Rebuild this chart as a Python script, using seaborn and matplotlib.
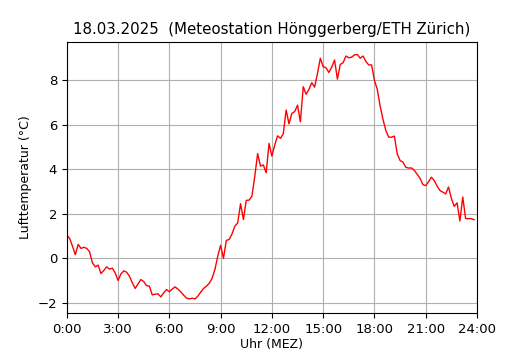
# Lufttemperatur Tagesverlauf, Meteostation Hönggerberg
import numpy as np
import pandas as pd
import matplotlib
matplotlib.use("Agg")
import matplotlib.pyplot as plt
import seaborn as sns

# 10-Minuten-Werte ab 0:00
temps = [
    1.05, 0.9, 0.55, 0.17, 0.63, 0.45, 0.5, 0.45, 0.3, -0.2, -0.38, -0.3,
    -0.68, -0.54, -0.38, -0.48, -0.44, -0.65, -0.99, -0.7, -0.56, -0.62, -0.8, -1.1,
    -1.35, -1.15, -0.95, -1.04, -1.22, -1.25, -1.64, -1.61, -1.59, -1.73, -1.55, -1.4,
    -1.5, -1.38, -1.28, -1.38, -1.5, -1.65, -1.78, -1.82, -1.79, -1.82, -1.7, -1.52,
    -1.35, -1.25, -1.12, -0.9, -0.5, 0.1, 0.59, 0.0, 0.81, 0.85, 1.1, 1.45,
    1.6, 2.46, 1.75, 2.61, 2.62, 2.8, 3.7, 4.71, 4.15, 4.2, 3.85, 5.17,
    4.6, 5.1, 5.51, 5.4, 5.6, 6.67, 6.05, 6.52, 6.6, 6.89, 6.14, 7.72,
    7.38, 7.6, 7.9, 7.7, 8.32, 9.0, 8.62, 8.57, 8.36, 8.6, 8.92, 8.06,
    8.72, 8.8, 9.1, 9.02, 9.05, 9.15, 9.17, 9.0, 9.1, 8.85, 8.7, 8.7,
    8.0, 7.6, 6.85, 6.25, 5.75, 5.45, 5.45, 5.5, 4.7, 4.4, 4.33, 4.1,
    4.06, 4.07, 3.96, 3.78, 3.6, 3.32, 3.27, 3.45, 3.65, 3.5, 3.25, 3.05,
    2.98, 2.9, 3.21, 2.7, 2.34, 2.5, 1.68, 2.76, 1.79, 1.79, 1.79, 1.74,
]
step_min = 10
tick_hours = [0, 3, 6, 9, 12, 15, 18, 21, 24]
tick_labels = [f"{h}:00" for h in tick_hours]

df = pd.DataFrame({
    "Stunde": np.arange(len(temps)) * step_min / 60,
    "Temperatur": temps,
})

fig = plt.figure(figsize=(5.3, 3.5), dpi=100)
ax = fig.add_axes([0.126, 0.106, 0.774, 0.774])

sns.lineplot(data=df, x="Stunde", y="Temperatur", color="red", linewidth=1, ax=ax)

ax.set_xlim(0, 24)
ax.set_ylim(-2.45, 9.73)
ax.set_xticks(tick_hours)
ax.set_xticklabels(tick_labels)
ax.tick_params(labelsize=9.5)
ax.grid(True)

ax.set_title("18.03.2025  (Meteostation Hönggerberg/ETH Zürich)", fontsize=10.8)
ax.set_xlabel("Uhr (MEZ)", fontsize=9, labelpad=1.5)
ax.set_ylabel("Lufttemperatur (°C)", fontsize=9)

fig.savefig("out.png", dpi=100)
